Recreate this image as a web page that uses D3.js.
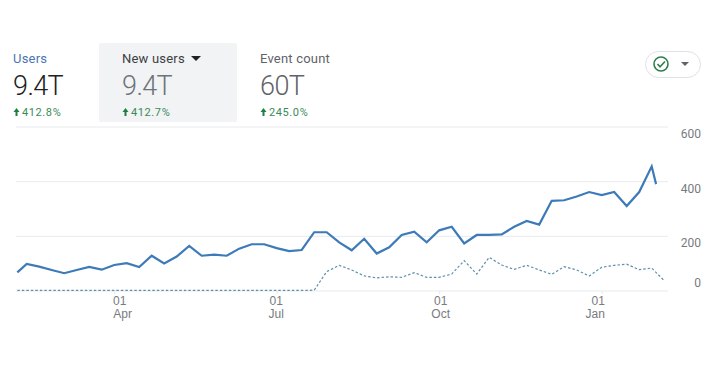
<!DOCTYPE html>
<html lang="en">
<head>
    <meta charset="UTF-8">
    <title>New users</title>
    <style>
        html, body { margin: 0; padding: 0; background: #fff; }
        svg { display: block; font-family: Roboto, sans-serif; }
        .axis-label { font-size: 12px; fill: #777b80; }
        .axis path { display: none; }
        .axis line { stroke: #e6e8ea; }
    </style>
</head>
<body>
    <svg width="717" height="370"></svg>
    <script src="https://d3js.org/d3.v7.min.js"></script>
    <script>
        // week index, 0 = first whole week. First and last solid points are partial weeks
        const weeks = [-0.75, 0, 1, 2, 3, 4, 5, 6, 7, 8, 9, 10, 11, 12, 13, 14, 15, 16, 17, 18, 19, 20, 21, 22, 23, 24, 25, 26, 27, 28, 29, 30, 31, 32, 33, 34, 35, 36, 37, 38, 39, 40, 41, 42, 43, 44, 45, 46, 47, 48, 49, 50, 50.35];
        const newUsers = [68, 99, 89, 77, 65, 77, 88, 78, 95, 102, 88, 129, 101, 126, 165, 129, 133, 129, 155, 171, 171, 157, 146, 150, 215, 215, 178, 149, 191, 137, 160, 205, 217, 178, 222, 235, 174, 205, 205, 207, 235, 256, 243, 330, 332, 346, 362, 351, 362, 311, 362, 456, 391];

        const prevWeeks = [-0.75, 0, 1, 2, 3, 4, 5, 6, 7, 8, 9, 10, 11, 12, 13, 14, 15, 16, 17, 18, 19, 20, 21, 22, 23, 24, 25, 26, 27, 28, 29, 30, 31, 32, 33, 34, 35, 36, 37, 38, 39, 40, 41, 42, 43, 44, 45, 46, 47, 48, 49, 50, 51];
        const prevUsers = [2, 2, 2, 2, 2, 2, 2, 2, 2, 2, 2, 2, 2, 2, 2, 2, 2, 2, 2, 2, 2, 2, 2, 2, 3, 71, 94, 77, 55, 48, 52, 50, 67, 50, 50, 62, 111, 62, 123, 95, 79, 94, 77, 61, 89, 77, 55, 87, 94, 98, 78, 84, 38];

        const yTicks = [0, 200, 400, 600];
        const tickWeeks = [7, 20, 33, 46];
        const tickDays = ["01", "01", "01", "01"];
        const tickMonths = ["Apr", "Jul", "Oct", "Jan"];

        const metricNames = ["Users", "New users", "Event count"];
        const metricValues = ["9.4T", "9.4T", "60T"];
        const metricChanges = ["412.8%", "412.7%", "245.0%"];

        const svg = d3.select("svg");

        const x = d3.scaleLinear().domain([0, 51]).range([26.7, 664.2]);
        const y = d3.scaleLinear().domain([0, 600]).range([291, 127]);

        // scorecards
        const cardX = [13, 122, 260];
        const nameColor = ["#4c74b0", "#3c4043", "#5f6368"];
        const valueColor = ["#202124", "#6f7378", "#5f6368"];

        svg.append("rect")
            .attr("x", 99).attr("y", 43)
            .attr("width", 138).attr("height", 79)
            .attr("rx", 2)
            .attr("fill", "#f1f3f4");

        const cards = svg.selectAll(".card")
            .data(metricNames)
            .enter().append("g")
            .attr("class", "card")
            .attr("transform", (d, i) => `translate(${cardX[i]},0)`);

        cards.append("text")
            .attr("y", 63)
            .style("font-size", "13px")
            .attr("letter-spacing", "0.2")
            .attr("fill", (d, i) => nameColor[i])
            .text(d => d);

        cards.append("text")
            .attr("y", 95)
            .style("font-size", "27px")
            .style("font-weight", 300)
            .attr("letter-spacing", "-0.6")
            .attr("fill", (d, i) => valueColor[i])
            .text((d, i) => metricValues[i]);

        // small up arrow
        cards.append("path")
            .attr("d", "M0.5,112 L3.5,108 L6.5,112 L4.5,112 L4.5,116 L2.5,116 L2.5,112 Z")
            .attr("fill", "#1e7e45");

        cards.append("text")
            .attr("x", 9)
            .attr("y", 116)
            .style("font-size", "11px")
            .attr("letter-spacing", "0.6")
            .attr("fill", "#3a8a5c")
            .text((d, i) => metricChanges[i]);

        // caret next to New users
        svg.append("path")
            .attr("d", "M191,56 L201,56 L196,61 Z")
            .attr("fill", "#202124");

        // compare pill
        svg.append("rect")
            .attr("x", 645.5).attr("y", 51.5)
            .attr("width", 55).attr("height", 26)
            .attr("rx", 13)
            .attr("fill", "#fff")
            .attr("stroke", "#dfe1e4");

        svg.append("circle")
            .attr("cx", 661).attr("cy", 64).attr("r", 7)
            .attr("fill", "none")
            .attr("stroke", "#2f7d4f")
            .attr("stroke-width", 1.6);

        svg.append("path")
            .attr("d", "M657.5,64 L660,66.8 L665,61.5")
            .attr("fill", "none")
            .attr("stroke", "#2f7d4f")
            .attr("stroke-width", 1.6);

        svg.append("path")
            .attr("d", "M681,62 L689,62 L685,66 Z")
            .attr("fill", "#5f6368");

        // grid
        svg.append("g")
            .selectAll("line")
            .data(yTicks)
            .enter().append("line")
            .attr("x1", 16).attr("x2", 668)
            .attr("y1", d => y(d)).attr("y2", d => y(d))
            .attr("stroke", "#e8eaed");

        // y labels sit below the line, except 0 which sits above
        svg.append("g")
            .selectAll("text")
            .data(yTicks)
            .enter().append("text")
            .attr("class", "axis-label")
            .attr("x", 701)
            .attr("y", d => y(d) + (d === 0 ? -4 : 11))
            .attr("text-anchor", "end")
            .text(d => d);

        // x axis
        const xAxis = svg.append("g")
            .attr("class", "axis")
            .attr("transform", "translate(0,291)")
            .call(d3.axisBottom(x).tickValues(tickWeeks).tickSize(3).tickFormat(""));

        const dayNudge = [5, -1, 1, -4];
        const monthNudge = [8, -1, 1, -7];

        xAxis.selectAll(".tick").each(function (d, i) {
            const tick = d3.select(this);
            tick.append("text")
                .attr("class", "axis-label")
                .attr("x", dayNudge[i]).attr("y", 14)
                .attr("text-anchor", "middle")
                .text(tickDays[i]);
            tick.append("text")
                .attr("class", "axis-label")
                .attr("x", monthNudge[i]).attr("y", 27)
                .attr("text-anchor", "middle")
                .text(tickMonths[i]);
        });

        // lines
        const prevLine = d3.line()
            .x((d, i) => x(prevWeeks[i]))
            .y(d => y(d));

        const line = d3.line()
            .x((d, i) => x(weeks[i]))
            .y(d => y(d));

        svg.append("path")
            .datum(prevUsers)
            .attr("d", prevLine)
            .attr("fill", "none")
            .attr("stroke", "#5f8fab")
            .attr("stroke-width", 1.2)
            .attr("stroke-dasharray", "2.5,2");

        svg.append("path")
            .datum(newUsers)
            .attr("d", line)
            .attr("fill", "none")
            .attr("stroke", "#3d7ab8")
            .attr("stroke-width", 2.2);
    </script>
</body>
</html>
